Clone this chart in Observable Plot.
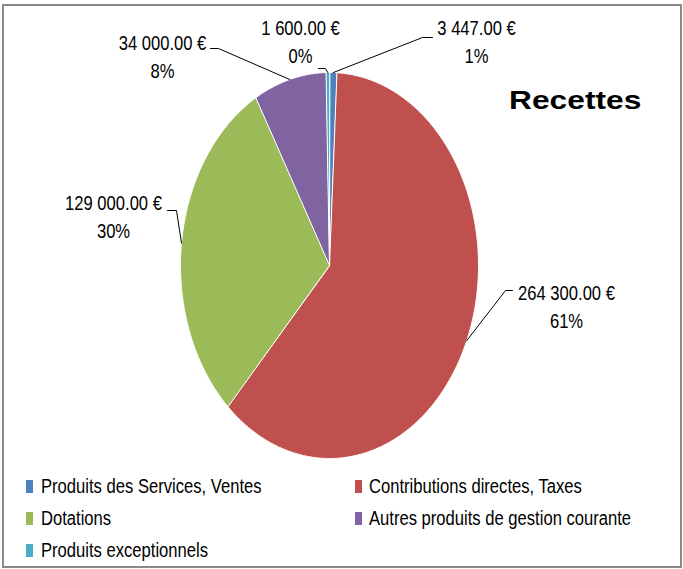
<!DOCTYPE html>
<html><head><meta charset="utf-8">
<script src="https://cdn.jsdelivr.net/npm/d3@7"></script>
<script src="https://cdn.jsdelivr.net/npm/@observablehq/plot@0.6"></script>
<style>
body{margin:0;background:#fff;}
#wrap{position:relative;width:683px;height:569px;overflow:hidden;background:#fff;
  font-family:"Liberation Sans",Arial,sans-serif;}
#border{position:absolute;left:2px;top:4px;width:676px;height:560px;border:2px solid #8a8a8a;}
#chart{position:absolute;left:0;top:0;}
#title{position:absolute;left:509px;top:88px;font-family:"Liberation Sans",Arial,sans-serif;
  font-weight:bold;font-size:25px;line-height:25px;transform:scaleX(1.27);transform-origin:0 0;color:#000;white-space:nowrap;}
.lg{position:absolute;font-size:20px;line-height:20px;color:#000;white-space:nowrap;transform:scaleX(0.83);transform-origin:0 50%;}
.mk{position:absolute;width:7px;height:13px;}
</style></head><body>
<div id="wrap"><div id="border"></div><div id="chart"></div><div id="title"></div></div>
<script>
// ---- data ----
const categories = ["Produits des Services, Ventes","Contributions directes, Taxes","Dotations","Autres produits de gestion courante","Produits exceptionnels"];
const values = [3447, 264300, 129000, 34000, 1600];
const colors = ["#4F81BD","#C0504D","#9BBB59","#8064A2","#4BACC6"];
const chartTitle = "Recettes";

// ---- layout (pixels) ----
const CX = 329, CY = 265, RX = 149, RY = 193;
const NARROW = 0.83;
const labelLayout = [
  {tx:476, ty:39.5, elbow:[[432,37],[422,37]]},
  {tx:566, ty:305, elbow:[[512,290],[505,290]]},
  {tx:113, ty:215, elbow:[[167,210],[176,210]]},
  {tx:162, ty:55,  elbow:[[210,48],[218,48]]},
  {tx:300, ty:39.5, elbow:[[318,68],[325,68]]}
];
const legendLayout = [
  {mx:26, tx:41, cy:486},{mx:355, tx:369, cy:486},
  {mx:26, tx:41, cy:518},{mx:355, tx:369, cy:518},
  {mx:26, tx:41, cy:550}
];

const px2x = p => (p - CX) / RX;
const px2y = p => (CY - p) / RY;

const total = d3.sum(values);
const arcs = d3.pie().sort(null).startAngle(0).endAngle(2*Math.PI)(values);

const slicePts = [];
arcs.forEach((a, i) => {
  const name = categories[i];
  slicePts.push({name, x:0, y:0});
  const n = Math.max(2, Math.ceil((a.endAngle - a.startAngle) / (Math.PI/360)));
  for (let k = 0; k <= n; k++) {
    const t = a.startAngle + (a.endAngle - a.startAngle) * k / n;
    slicePts.push({name, x:Math.sin(t), y:Math.cos(t)});
  }
});

const fmtNum = v => d3.format(",.2f")(v).replace(/,/g, " ") + " €";
const leaderPts = [];
const labels = [];
arcs.forEach((a, i) => {
  const name = categories[i];
  const mid = (a.startAngle + a.endAngle) / 2;
  const L = labelLayout[i];
  L.elbow.forEach(([ex, ey]) => leaderPts.push({name, x:px2x(ex), y:px2y(ey)}));
  leaderPts.push({name, x:Math.sin(mid), y:Math.cos(mid)});
  labels.push({name, x:px2x(L.tx), y:px2y(L.ty),
    text: fmtNum(values[i]) + "\n" + Math.round(values[i] / total * 100) + "%"});
});

const chart = Plot.plot({
  width: 683, height: 470,
  style: {fontFamily: '"Liberation Sans",Arial,sans-serif', background: "transparent", overflow: "visible"},
  x: {domain:[-1,1], range:[CX-RX, CX+RX], axis:null},
  y: {domain:[-1,1], range:[CY+RY, CY-RY], axis:null},
  color: {domain: categories, range: colors},
  marks: [
    Plot.line(slicePts, {x:"x", y:"y", z:"name", fill:"name", stroke:"white", strokeWidth:1, curve:"linear-closed"}),
    Plot.line(leaderPts, {x:"x", y:"y", z:"name", stroke:"#000", strokeWidth:1}),
    Plot.text(labels, {x:"x", y:"y", text:"text", fontSize:20, lineHeight:1.4, fill:"#000", textAnchor:"middle"})
  ]
});
// condense label text horizontally (narrow face not installed)
d3.select(chart).selectAll("text").each(function() {
  let t = this.getAttribute("transform");
  if (!t) {
    const x = +this.getAttribute("x") || 0, y = +this.getAttribute("y") || 0;
    this.removeAttribute("x"); this.removeAttribute("y");
    t = `translate(${x},${y})`;
  }
  this.setAttribute("transform", t + ` scale(${NARROW},1)`);
});
document.getElementById("chart").appendChild(chart);
document.getElementById("title").textContent = chartTitle;

const wrap = document.getElementById("wrap");
categories.forEach((c, i) => {
  const L = legendLayout[i];
  const m = document.createElement("div");
  m.className = "mk"; m.style.left = L.mx + "px"; m.style.top = (L.cy - 6.5) + "px"; m.style.background = colors[i];
  wrap.appendChild(m);
  const t = document.createElement("div");
  t.className = "lg"; t.style.left = L.tx + "px"; t.style.top = (L.cy - 10) + "px"; t.textContent = c;
  wrap.appendChild(t);
});
</script>
</body></html>
